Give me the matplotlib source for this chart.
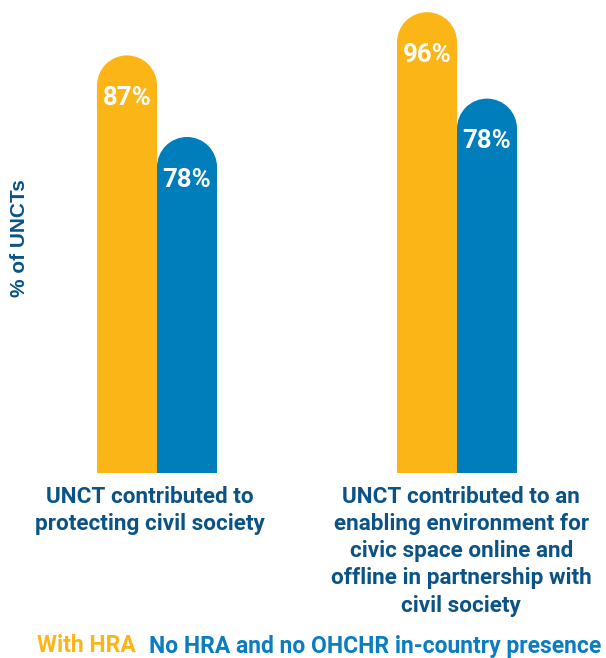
import matplotlib
matplotlib.use("Agg")
import matplotlib.pyplot as plt
from matplotlib.patches import Ellipse
import numpy as np

plt.rcParams['font.family'] = ['Roboto', 'DejaVu Sans']

categories = ["UNCT contributed to\nprotecting civil society",
              "UNCT contributed to an\nenabling environment for\ncivic space online and\noffline in partnership with\ncivil society"]
with_hra = [87, 96]
no_hra = [70, 78]            # bar heights as drawn in the picture
with_hra_labels = ["87%", "96%"]
no_hra_labels = ["78%", "78%"]
series_names = ["With HRA", "No HRA and no OHCHR in-country presence"]
y_label = "% of UNCTs"

YELLOW = "#FBB516"
BLUE = "#007DBB"
DARK = "#0B5386"
LEG_BLUE = "#0A7CC1"

W, H = 606, 658
fig = plt.figure(figsize=(W / 100, H / 100), dpi=100)
bottom_px = 473
ax = fig.add_axes([0, (H - bottom_px) / H, 1, bottom_px / H])
px_per_unit_x = 300.0
ax.set_xlim((0 - 157) / px_per_unit_x, (W - 157) / px_per_unit_x)
px_per_unit_y = 4.8
ax.set_ylim(0, bottom_px / px_per_unit_y)
ax.axis("off")

x = np.arange(len(categories))
bw = 60 / px_per_unit_x
ry = 30 / px_per_unit_y

for vals, labs, col, off in [(with_hra, with_hra_labels, YELLOW, -bw / 2),
                             (no_hra, no_hra_labels, BLUE, bw / 2)]:
    vals = np.array(vals, dtype=float)
    ax.bar(x + off, vals - ry, width=bw, color=col, linewidth=0)
    for xi, v, lab in zip(x + off, vals, labs):
        ax.add_patch(Ellipse((xi, v - ry), bw, 2 * ry, color=col, linewidth=0))
        ax.text(xi, v - 8.4, lab, ha="center", va="center_baseline", color="white",
                fontsize=18.5, fontweight="bold")

label_dx = [-5, 3]   # layout offsets in points
for xi, cat, dx in zip(x, categories, label_dx):
    ax.annotate(cat, xy=(xi, 0), xycoords=("data", "axes fraction"),
                xytext=(dx, -9.5), textcoords="offset points",
                ha="center", va="top", color=DARK, fontsize=16.2,
                fontweight="bold", linespacing=1.3)

fig.text(20 / W, 1 - 238 / H, y_label, rotation=90, ha="center", va="center",
         color=DARK, fontsize=15, fontweight="bold", family="Liberation Sans")

fig.text(37 / W, 1 - 646 / H, series_names[0], ha="left", va="center",
         color=YELLOW, fontsize=16.5, fontweight="bold")
fig.text(149 / W, 1 - 646 / H, series_names[1], ha="left", va="center",
         color=LEG_BLUE, fontsize=16.5, fontweight="bold")

fig.savefig("out.png", dpi=100)
